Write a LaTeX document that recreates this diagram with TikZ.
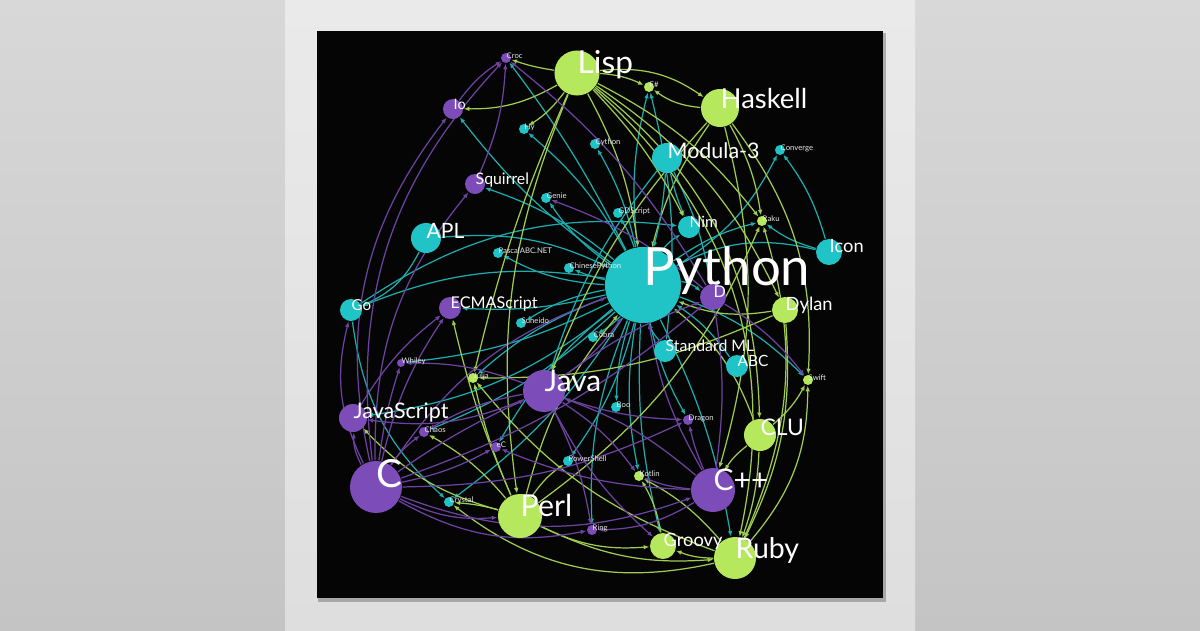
\documentclass[tikz,border=0pt]{standalone}
\usepackage{fontspec}
\setmainfont{Lato}
\usetikzlibrary{arrows.meta,backgrounds}
\definecolor{pycyan}{RGB}{32,196,198}
\definecolor{pypurple}{RGB}{124,76,184}
\definecolor{pygreen}{RGB}{181,232,92}
\definecolor{tagwhite}{RGB}{232,232,232}
\pgfdeclarelayer{paper}
\pgfsetlayers{paper,background,main}

\begin{document}
\begin{tikzpicture}[x=0.01cm, y=-0.01cm,
    lang/.style={circle, inner sep=0pt, minimum size=#1},
    cyanlang/.style={lang=#1, fill=pycyan},
    purplelang/.style={lang=#1, fill=pypurple},
    greenlang/.style={lang=#1, fill=pygreen},
    langname/.style={anchor=base west, inner sep=0pt, text=white, font=\fontsize{#1}{#1}\selectfont},
    tinyname/.style={langname=2.2, text=tagwhite},
    infl/.style={draw=#1!88!black, line width=0.35pt, -{Latex[length=1.6pt,width=1.3pt]}}
  ]
  \useasboundingbox (0,0) rectangle (1200,630);
  \begin{pgfonlayer}{paper}
    \shade[top color={rgb,255:red,216;green,216;blue,216}, bottom color={rgb,255:red,196;green,196;blue,196}] (0,0) rectangle (1200,630);
    \shade[top color={rgb,255:red,234;green,234;blue,234}, bottom color={rgb,255:red,222;green,222;blue,222}] (285,0) rectangle (915,630);
    \fill[black, opacity=0.25] (318,33) rectangle (886,602);
    \fill[black!98] (317,31) rectangle (883,598);
  \end{pgfonlayer}

  % languages
  \node[cyanlang=7.6mm] (python) at (643,285) {};
  \node[langname=15] (pythontag) at (python.center) {Python};
  \node[greenlang=4.5mm] (lisp) at (577,73) {};
  \node[langname=9] (lisptag) at (lisp.center) {Lisp};
  \node[greenlang=3.8mm] (haskell) at (720,108) {};
  \node[langname=7.8] (haskelltag) at (haskell.center) {Haskell};
  \node[cyanlang=3mm] (modula) at (667,158) {};
  \node[langname=6.1] (modulatag) at (modula.center) {Modula-3};
  \node[cyanlang=3mm] (apl) at (426,238) {};
  \node[langname=6] (apltag) at (apl.center) {APL};
  \node[cyanlang=2.6mm] (icon) at (829,252) {};
  \node[langname=5.2] (icontag) at (icon.center) {Icon};
  \node[cyanlang=2.2mm] (go) at (351,310) {};
  \node[langname=4.3] (gotag) at (go.center) {Go};
  \node[cyanlang=2.2mm] (nim) at (689,227) {};
  \node[langname=4.4] (nimtag) at (nim.center) {Nim};
  \node[cyanlang=2.2mm] (sml) at (665,351) {};
  \node[langname=4.5] (smltag) at (sml.center) {Standard ML};
  \node[cyanlang=2.2mm] (abc) at (737,366) {};
  \node[langname=4.4] (abctag) at (abc.center) {ABC};
  \node[cyanlang=1mm] (hy) at (524,129) {};
  \node[tinyname] (hytag) at (hy.center) {Hy};
  \node[cyanlang=1mm] (cython) at (595,144) {};
  \node[tinyname] (cythontag) at (cython.center) {Cython};
  \node[cyanlang=1mm] (converge) at (780,150) {};
  \node[tinyname] (convergetag) at (converge.center) {Converge};
  \node[cyanlang=1mm] (genie) at (546,198) {};
  \node[tinyname] (genietag) at (genie.center) {Genie};
  \node[cyanlang=1mm] (gdscript) at (618,213) {};
  \node[tinyname] (gdscripttag) at (gdscript.center) {GDScript};
  \node[cyanlang=1mm] (pascal) at (498,253) {};
  \node[tinyname] (pascaltag) at (pascal.center) {PascalABC.NET};
  \node[cyanlang=1mm] (chinese) at (569,268) {};
  \node[tinyname] (chinesetag) at (chinese.center) {ChinesePython};
  \node[cyanlang=1mm] (suneido) at (521,323) {};
  \node[tinyname] (suneidotag) at (suneido.center) {Suneido};
  \node[cyanlang=1mm] (cobra) at (593,337) {};
  \node[tinyname] (cobratag) at (cobra.center) {Cobra};
  \node[cyanlang=1mm] (boo) at (616,407) {};
  \node[tinyname] (bootag) at (boo.center) {Boo};
  \node[cyanlang=1mm] (powershell) at (568,461) {};
  \node[tinyname] (powershelltag) at (powershell.center) {PowerShell};
  \node[cyanlang=1mm] (crystal) at (449,502) {};
  \node[tinyname] (crystaltag) at (crystal.center) {Crystal};
  \node[purplelang=5.2mm] (c) at (376,487) {};
  \node[langname=11] (ctag) at (c.center) {C};
  \node[purplelang=4.4mm] (cpp) at (713,490) {};
  \node[langname=8.5] (cpptag) at (cpp.center) {C++};
  \node[purplelang=4.2mm] (java) at (544,391) {};
  \node[langname=8.5] (javatag) at (java.center) {Java};
  \node[purplelang=2.8mm] (javascript) at (353,418) {};
  \node[langname=6.1] (javascripttag) at (javascript.center) {JavaScript};
  \node[purplelang=2.2mm] (ecma) at (450,308) {};
  \node[langname=4.6] (ecmatag) at (ecma.center) {ECMAScript};
  \node[purplelang=2.6mm] (d) at (713,297) {};
  \node[langname=4.6] (dtag) at (d.center) {D};
  \node[purplelang=2mm] (io) at (453,109) {};
  \node[langname=4.1] (iotag) at (io.center) {Io};
  \node[purplelang=2mm] (squirrel) at (475,184) {};
  \node[langname=4.5] (squirreltag) at (squirrel.center) {Squirrel};
  \node[purplelang=1mm] (croc) at (506,58) {};
  \node[tinyname] (croctag) at (croc.center) {Croc};
  \node[purplelang=0.8mm] (whiley) at (401,363) {};
  \node[tinyname] (whileytag) at (whiley.center) {Whiley};
  \node[purplelang=1mm] (chaos) at (424,432) {};
  \node[tinyname] (chaostag) at (chaos.center) {Chaos};
  \node[purplelang=1mm] (ec) at (496,447) {};
  \node[tinyname] (ectag) at (ec.center) {eC};
  \node[purplelang=1mm] (dragon) at (688,420) {};
  \node[tinyname] (dragontag) at (dragon.center) {Dragon};
  \node[purplelang=1mm] (ring) at (592,530) {};
  \node[tinyname] (ringtag) at (ring.center) {Ring};
  \node[greenlang=4.4mm] (perl) at (520,516) {};
  \node[langname=8.6] (perltag) at (perl.center) {Perl};
  \node[greenlang=4.2mm] (ruby) at (735,558) {};
  \node[langname=8.1] (rubytag) at (ruby.center) {Ruby};
  \node[greenlang=3.2mm] (clu) at (760,435) {};
  \node[langname=6.5] (clutag) at (clu.center) {CLU};
  \node[greenlang=2.6mm] (dylan) at (785,310) {};
  \node[langname=5.2] (dylantag) at (dylan.center) {Dylan};
  \node[greenlang=2.6mm] (groovy) at (663,546) {};
  \node[langname=5.2] (groovytag) at (groovy.center) {Groovy};
  \node[greenlang=1mm] (fsharp) at (649,87) {};
  \node[tinyname] (fsharptag) at (fsharp.center) {F\#};
  \node[greenlang=1mm] (raku) at (762,221) {};
  \node[tinyname] (rakutag) at (raku.center) {Raku};
  \node[greenlang=1mm] (julia) at (473,378) {};
  \node[tinyname] (juliatag) at (julia.center) {Julia};
  \node[greenlang=1mm] (swift) at (808,380) {};
  \node[tinyname] (swifttag) at (swift.center) {Swift};
  \node[greenlang=1mm] (kotlin) at (639,476) {};
  \node[tinyname] (kotlintag) at (kotlin.center) {Kotlin};

  % influences
  \begin{scope}[on background layer]
    \draw[infl=pycyan] (python) to[bend right=10] (hy);
    \draw[infl=pycyan] (python) to[bend right=8] (cython);
    \draw[infl=pycyan] (python) to[bend left=10] (genie);
    \draw[infl=pycyan] (python) to[bend right=6] (gdscript);
    \draw[infl=pycyan] (python) to[bend left=12] (pascal);
    \draw[infl=pycyan] (python) to[bend left=5] (chinese);
    \draw[infl=pycyan] (python) to[bend right=10] (suneido);
    \draw[infl=pycyan] (python) to[bend left=8] (cobra);
    \draw[infl=pycyan] (python) to[bend right=8] (boo);
    \draw[infl=pycyan] (python) to[bend left=10] (powershell);
    \draw[infl=pycyan] (python) to[bend left=10] (crystal);
    \draw[infl=pycyan] (python) to[bend right=10] (kotlin);
    \draw[infl=pycyan] (python) to[bend left=10] (nim);
    \draw[infl=pycyan] (python) to[bend right=15] (converge);
    \draw[infl=pycyan] (python) to[bend left=10] (raku);
    \draw[infl=pycyan] (python) to[bend right=15] (go);
    \draw[infl=pycyan] (python) to[bend left=15] (javascript);
    \draw[infl=pycyan] (python) to[bend right=10] (squirrel);
    \draw[infl=pycyan] (python) to[bend left=8] (ecma);
    \draw[infl=pycyan] (python) to[bend left=15] (d);
    \draw[infl=pycyan] (python) to[bend right=10] (julia);
    \draw[infl=pycyan] (python) to[bend left=12] (swift);
    \draw[infl=pycyan] (python) to[bend right=8] (groovy);
    \draw[infl=pycyan] (python) to[bend left=8] (ruby);
    \draw[infl=pycyan] (python) to[bend right=12] (ring);
    \draw[infl=pycyan] (python) to[bend left=10] (fsharp);
    \draw[infl=pycyan] (python) to[bend right=8] (dragon);
    \draw[infl=pycyan] (python) to[bend left=10] (chaos);
    \draw[infl=pycyan] (python) to[bend right=10] (ec);
    \draw[infl=pycyan] (python) to[bend left=10] (whiley);
    \draw[infl=pycyan] (python) to[bend right=5] (croc);
    \draw[infl=pycyan] (python) to[bend left=8] (io);
    \draw[infl=pygreen] (lisp) to[bend left=10] (python);
    \draw[infl=pygreen] (haskell) to[bend right=10] (python);
    \draw[infl=pycyan] (modula) to[bend left=5] (python);
    \draw[infl=pycyan] (apl) to[bend left=15] (python);
    \draw[infl=pycyan] (icon) to[bend right=20] (python);
    \draw[infl=pygreen] (dylan) to[bend left=15] (python);
    \draw[infl=pycyan] (abc) to[bend right=10] (python);
    \draw[infl=pycyan] (sml) to[bend left=10] (python);
    \draw[infl=pygreen] (clu) to[bend right=15] (python);
    \draw[infl=pypurple] (cpp) to[bend left=10] (python);
    \draw[infl=pypurple] (java) to[bend right=10] (python);
    \draw[infl=pygreen] (perl) to[bend left=12] (python);
    \draw[infl=pypurple] (c) to[bend left=18] (python);
    \draw[infl=pycyan] (apl) to[bend left=20] (go);
    \draw[infl=pycyan] (go) to[bend right=20] (crystal);
    \draw[infl=pycyan] (go) to[bend left=20] (nim);
    \draw[infl=pycyan] (modula) to[bend right=5] (nim);
    \draw[infl=pycyan] (modula) to[bend right=10] (java);
    \draw[infl=pycyan] (modula) to[bend left=8] (d);
    \draw[infl=pycyan] (icon) to[bend right=10] (converge);
    \draw[infl=pycyan] (icon) to[bend left=10] (raku);
    \draw[infl=pycyan] (sml) to[bend right=10] (fsharp);
    \draw[infl=pygreen] (lisp) to[bend left=15] (io);
    \draw[infl=pygreen] (lisp) to[bend left=10] (hy);
    \draw[infl=pygreen] (lisp) to[bend left=5] (croc);
    \draw[infl=pygreen] (lisp) to[bend left=20] (haskell);
    \draw[infl=pygreen] (lisp) to[bend left=10] (fsharp);
    \draw[infl=pygreen] (lisp) to[bend right=5] (julia);
    \draw[infl=pygreen] (lisp) to[bend left=15] (dylan);
    \draw[infl=pygreen] (lisp) to[bend left=30] (ruby);
    \draw[infl=pygreen] (lisp) to[bend left=25] (clu);
    \draw[infl=pygreen] (lisp) to[bend left=8] (nim);
    \draw[infl=pygreen] (lisp) to[bend left=12] (raku);
    \draw[infl=pygreen] (lisp) to[bend right=15] (perl);
    \draw[infl=pygreen] (haskell) to[bend left=15] (fsharp);
    \draw[infl=pygreen] (haskell) to[bend left=10] (raku);
    \draw[infl=pygreen] (haskell) to[bend left=20] (swift);
    \draw[infl=pygreen] (haskell) to[bend left=15] (cpp);
    \draw[infl=pygreen] (haskell) to[bend right=10] (java);
    \draw[infl=pygreen] (perl) to[bend right=15] (ruby);
    \draw[infl=pygreen] (perl) to[bend left=5] (julia);
    \draw[infl=pygreen] (perl) to[bend left=15] (javascript);
    \draw[infl=pygreen] (perl) to[bend right=15] (raku);
    \draw[infl=pygreen] (perl) to[bend left=10] (powershell);
    \draw[infl=pygreen] (perl) to[bend right=15] (groovy);
    \draw[infl=pygreen] (perl) to[bend right=5] (crystal);
    \draw[infl=pygreen] (perl) to[bend right=10] (chaos);
    \draw[infl=pygreen] (perl) to[bend left=5] (ecma);
    \draw[infl=pygreen] (ruby) to[bend left=25] (crystal);
    \draw[infl=pygreen] (ruby) to[bend left=10] (groovy);
    \draw[infl=pygreen] (ruby) to[bend right=10] (kotlin);
    \draw[infl=pygreen] (ruby) to[bend left=15] (julia);
    \draw[infl=pygreen] (ruby) to[bend right=20] (swift);
    \draw[infl=pygreen] (ruby) to[bend right=20] (raku);
    \draw[infl=pygreen] (clu) to[bend left=8] (ruby);
    \draw[infl=pygreen] (clu) to[bend right=10] (swift);
    \draw[infl=pygreen] (clu) to[bend right=10] (cpp);
    \draw[infl=pygreen] (dylan) to[bend left=15] (ruby);
    \draw[infl=pygreen] (dylan) to[bend left=12] (julia);
    \draw[infl=pygreen] (groovy) to[bend right=10] (kotlin);
    \draw[infl=pypurple] (c) to[bend left=20] (go);
    \draw[infl=pypurple] (c) to[bend left=15] (javascript);
    \draw[infl=pypurple] (c) to[bend left=25] (io);
    \draw[infl=pypurple] (c) to[bend left=25] (croc);
    \draw[infl=pypurple] (c) to[bend left=20] (squirrel);
    \draw[infl=pypurple] (c) to[bend right=20] (cpp);
    \draw[infl=pypurple] (c) to[bend left=5] (java);
    \draw[infl=pypurple] (c) to[bend right=15] (perl);
    \draw[infl=pypurple] (c) to[bend left=8] (chaos);
    \draw[infl=pypurple] (c) to[bend left=10] (ecma);
    \draw[infl=pypurple] (c) to[bend left=5] (whiley);
    \draw[infl=pypurple] (c) to[bend right=8] (ec);
    \draw[infl=pypurple] (c) to[bend right=20] (ring);
    \draw[infl=pypurple] (c) to[bend right=10] (d);
    \draw[infl=pypurple] (c) to[bend right=12] (dragon);
    \draw[infl=pypurple] (cpp) to[bend right=10] (java);
    \draw[infl=pypurple] (cpp) to[bend right=8] (d);
    \draw[infl=pypurple] (cpp) to[bend left=5] (dragon);
    \draw[infl=pypurple] (cpp) to[bend left=8] (kotlin);
    \draw[infl=pypurple] (cpp) to[bend left=15] (ring);
    \draw[infl=pypurple] (cpp) to[bend left=10] (ec);
    \draw[infl=pypurple] (java) to[bend left=15] (javascript);
    \draw[infl=pypurple] (java) to[bend right=10] (groovy);
    \draw[infl=pypurple] (java) to[bend left=10] (kotlin);
    \draw[infl=pypurple] (java) to[bend left=8] (ring);
    \draw[infl=pypurple] (java) to[bend right=10] (chaos);
    \draw[infl=pypurple] (java) to[bend right=8] (dragon);
    \draw[infl=pypurple] (java) to[bend right=10] (whiley);
    \draw[infl=pypurple] (java) to[bend left=8] (d);
    \draw[infl=pypurple] (javascript) to[bend left=10] (ecma);
    \draw[infl=pypurple] (io) to[bend left=10] (croc);
    \draw[infl=pypurple] (squirrel) to[bend right=10] (croc);
    \draw[infl=pypurple] (d) to[bend right=10] (croc);
    \draw[infl=pypurple] (d) to[bend left=10] (swift);
    \draw[infl=pypurple] (d) to[bend right=10] (genie);
  \end{scope}
\end{tikzpicture}
\end{document}
